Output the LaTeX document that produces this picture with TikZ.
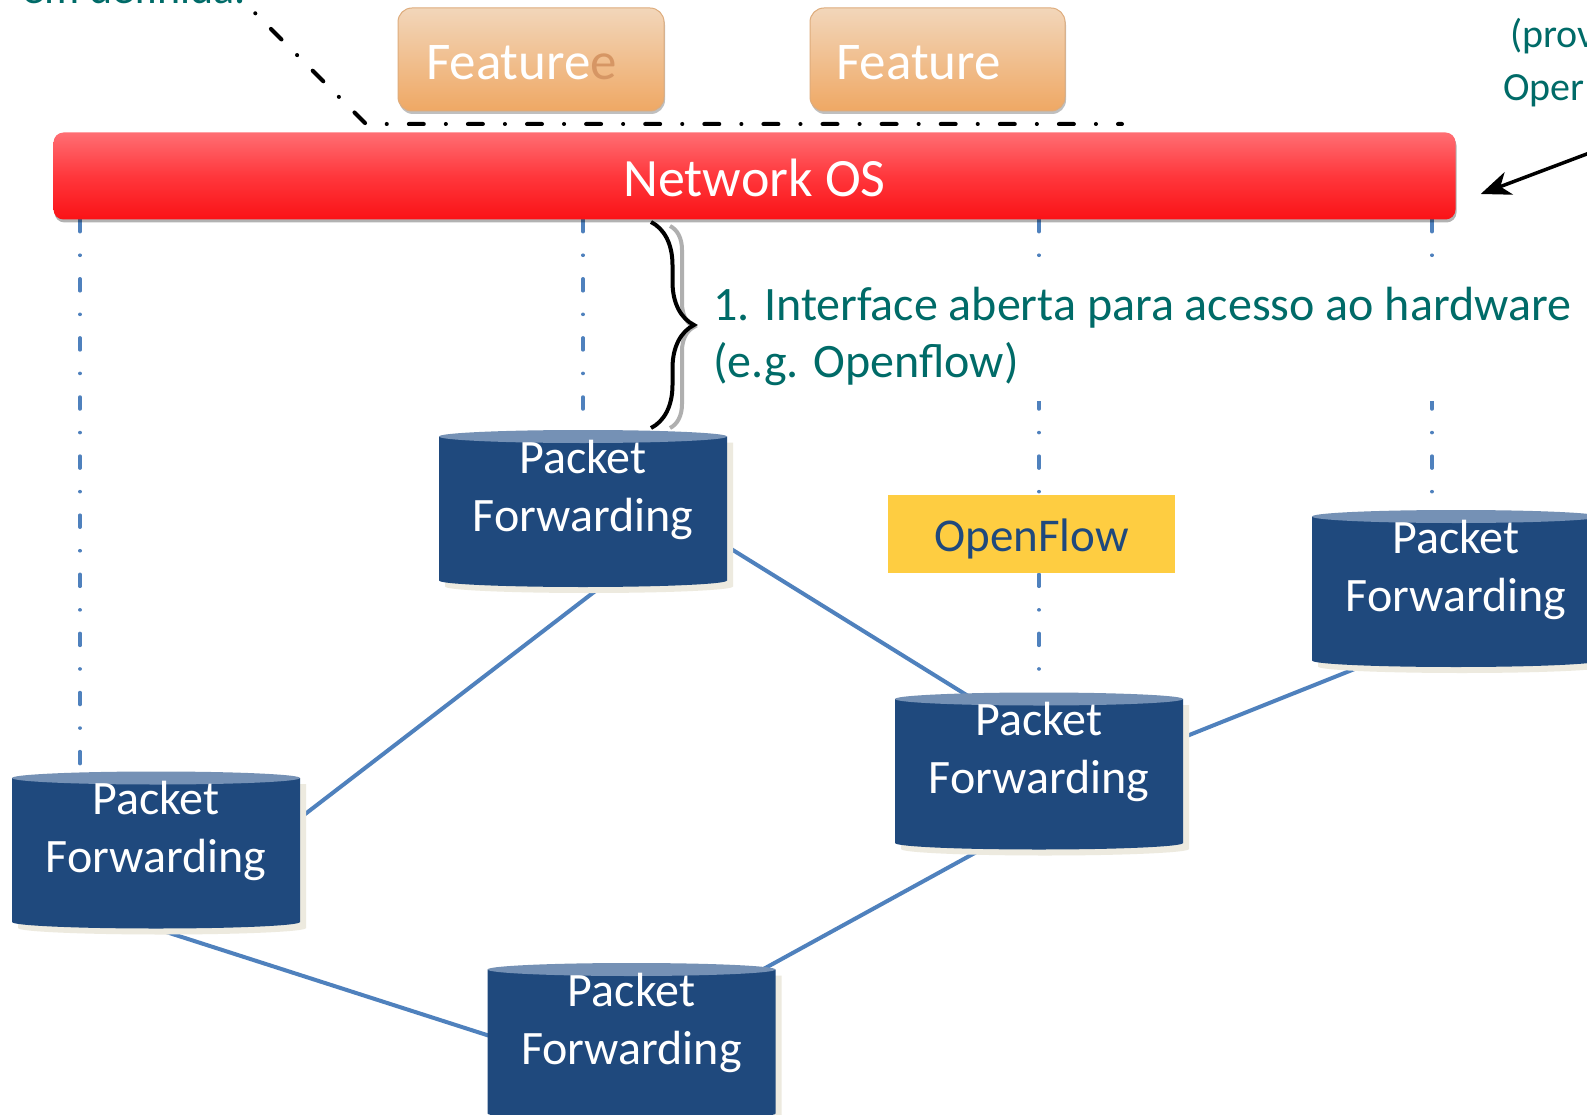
\documentclass[tikz,border=0pt]{standalone}
\usepackage{fontspec}
\setmainfont{Carlito}
\usetikzlibrary{calc,shadows,arrows.meta,decorations.pathreplacing}
\definecolor{tealtxt}{RGB}{0,107,104}
\definecolor{pfblue}{RGB}{31,73,125}
\definecolor{pftopc}{RGB}{117,145,181}
\definecolor{pfshadow}{RGB}{237,234,223}
\definecolor{linkblue}{RGB}{79,129,189}
\definecolor{ofyellow}{RGB}{254,205,65}
\definecolor{netTop}{RGB}{255,110,115}
\definecolor{netMid}{RGB}{255,55,60}
\definecolor{netBot}{RGB}{250,18,22}
\definecolor{featTop}{RGB}{242,214,186}
\definecolor{featBot}{RGB}{239,168,100}
\definecolor{featEdge}{RGB}{222,172,124}
\definecolor{ghost}{RGB}{214,150,100}
\definecolor{bracegray}{RGB}{175,175,175}
\pgfdeclarelayer{bg}
\pgfdeclarelayer{lines}
\pgfsetlayers{bg,lines,main}
\newcommand{\pfstack}{\raisebox{35.5pt}[0pt][0pt]{\vtop{\halign{\hfil##\hfil\cr Packet\cr Forwarding\cr}}}}
\newcommand{\pfcyl}[3]{%
 \fill[pfshadow] (#2-138,#3-66) -- (#2-138,#3+78) arc[start angle=180,end angle=360,x radius=144pt,y radius=6.5pt] -- (#2+150,#3-66) -- cycle;
 \fill[pfblue] (#2-144,#3-72) -- (#2-144,#3+72) arc[start angle=180,end angle=360,x radius=144pt,y radius=6.5pt] -- (#2+144,#3-72) -- cycle;
 \fill[pftopc] (#2,#3-72) ellipse[x radius=144pt,y radius=6.5pt];
 \node[pfnode] (#1) at (#2,#3) {\pfstack};
}
\begin{document}
\begin{tikzpicture}[x=1pt,y=-1pt,
  pfnode/.style={minimum width=288pt,minimum height=157pt,inner sep=0pt,text=white,font=\fontsize{48}{58}\selectfont},
  netos/.style={rounded corners=10pt,minimum width=1402pt,minimum height=87pt,inner sep=0pt,
    top color=netTop,bottom color=netBot,middle color=netMid,text=white,
    font=\fontsize{54}{60}\selectfont,text height=42pt,text depth=0pt,
    drop shadow={shadow xshift=1pt,shadow yshift=-3pt,opacity=0.3,fill=black}},
  feat/.style={rounded corners=14pt,minimum height=103pt,inner sep=0pt,
    top color=featTop,bottom color=featBot,draw=featEdge,line width=1pt,text=white,
    font=\fontsize{53}{60}\selectfont,text height=41pt,text depth=0pt,
    drop shadow={shadow xshift=1pt,shadow yshift=-3pt,opacity=0.25,fill=black}},
  ofbox/.style={fill=ofyellow,minimum width=287pt,minimum height=78pt,inner sep=0pt,
    text=pfblue,font=\fontsize{47}{56}\selectfont,text height=34pt,text depth=0pt},
  annot/.style={text=tealtxt,font=\fontsize{48}{57}\selectfont,inner sep=0pt},
  pflink/.style={draw=linkblue,line width=4pt},
  vdash/.style={draw=linkblue,line width=3.5pt,line cap=round,dash pattern=on 12pt off 23.5pt on 0.1pt off 23.5pt},
  ddline/.style={draw=black,line width=4pt,line cap=round,dash pattern=on 15pt off 22pt on 0.1pt off 22pt,dash phase=14pt}
]
\useasboundingbox (0,0) rectangle (1587,1115);
\begin{pgfonlayer}{bg}
  \fill[white] (0,0) rectangle (1587,1115);
\end{pgfonlayer}

% packet forwarding cylinders
\pfcyl{c1}{583}{508.5}
\pfcyl{c2}{156}{850}
\pfcyl{c3}{1039}{771}
\pfcyl{c4}{1456}{588.5}
\pfcyl{c5}{631.5}{1041.5}

% Network OS bar
\node[netos] (netos) at (754.5,176) {Network OS};

% Feature boxes
\node[feat,minimum width=266pt] (f1) at (531,59.5) {Feature\textcolor{ghost}{e}\hspace*{19pt}};
\node[feat,minimum width=255pt] (f2) at (937.5,59.5) {Feature\hspace*{38pt}};

% OpenFlow label
\node[ofbox] (of) at (1031.5,534) {OpenFlow};

% interface annotation
\node[annot,anchor=base west,fill=white,inner xsep=6pt,inner ysep=16pt] (iface) at (707,320)
  {\vtop{\hbox{1. Interface aberta para acesso ao hardware}\hbox{(e.g. Openflow)}}};

% connectors behind the cylinders
\begin{pgfonlayer}{lines}
  \draw[pflink] ($(c1.center)+(52,52)$) -- (c2.south);
  \draw[pflink] ($(c1.east)+(0,38)$) -- ($(c3.center)+(0,-31)$);
  \draw[pflink] ($(c3.south)+(0,-32)$) -- (c5.center);
  \draw[pflink] (c2.south) -- ($(c5.center)+(0,40)$);
  \draw[pflink] ($(c3.center)+(0,24)$) -- ($(c4.center)+(0,40)$);
  \coordinate (v1) at (c1.north);
  \coordinate (v2) at ($(c2.north)+(-76,0)$);
  \coordinate (v3) at (c3.north);
  \coordinate (v4) at ($(c4.north)+(-24,0)$);
  \draw[vdash] (v1 |- netos.south) -- (v1);
  \draw[vdash] (v2 |- netos.south) -- (v2);
  \draw[vdash] (v3 |- netos.south) -- (v3);
  \draw[vdash] (v4 |- netos.south) -- (v4);
\end{pgfonlayer}

% braces
\draw[bracegray,line width=4pt,decorate,decoration={brace,amplitude=24pt}] (670,226) -- (670,428);
\draw[black,line width=4pt,decorate,decoration={brace,amplitude=43pt}] (651,222) -- (651,428);

% dash-dot boundary
\coordinate (ddA) at (239,-3);
\coordinate (ddB) at (366,124);
\coordinate (ddC) at (1122,124);
\draw[ddline] (ddA) -- (ddB) -- (ddC);

% arrow from the right
\coordinate (arrS) at (1600,149);
\draw[line width=3.5pt,-{Stealth[length=30pt,width=24pt,inset=9pt]}] (arrS) -- ($(netos.east)+(25,18)$);

% cut-off texts at the edges
\node[annot,anchor=base east,font=\fontsize{44}{52}\selectfont] (tl) at (246,4) {em definida.};
\node[annot,anchor=base west,font=\fontsize{40}{48}\selectfont] (tr1) at (1510,48) {(prov};
\node[annot,anchor=base west,font=\fontsize{40}{48}\selectfont] (tr2) at (1503,101) {Oper};
\end{tikzpicture}
\end{document}
